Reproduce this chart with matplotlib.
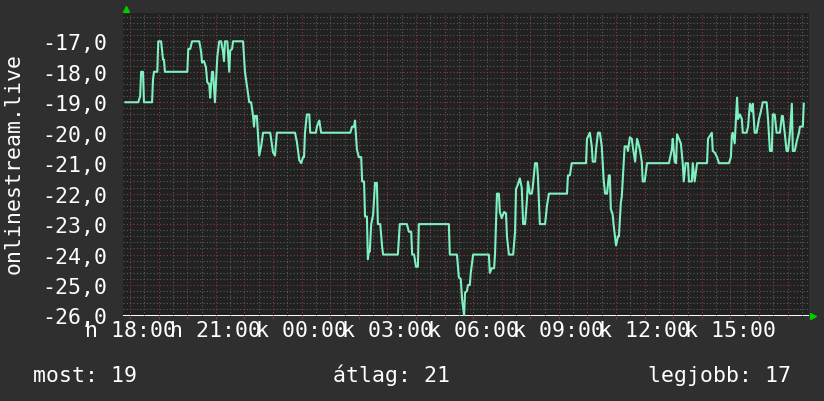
import matplotlib
matplotlib.use("Agg")
import matplotlib.pyplot as plt
from matplotlib.ticker import MultipleLocator, FuncFormatter
import numpy as np

# minutes after 18:00 (Monday) and measured value
minutes = [-10, 17, 21, 23, 27, 29, 46, 48, 50, 57, 59, 65, 69, 71, 73, 120, 122, 126, 130,
           145, 149, 151, 155, 159, 162, 166, 168, 172, 174, 178, 183, 187, 191, 195, 197,
           199, 204, 208, 210, 214, 216, 237, 239, 241, 245, 250, 254, 258, 260, 262, 266,
           271, 275, 279, 294, 298, 300, 304, 308, 346, 350, 355, 359, 363, 365, 367, 371,
           376, 378, 390, 392, 397, 401, 462, 466, 470, 472, 476, 480, 485, 487, 491, 493,
           497, 499, 501, 503, 506, 510, 514, 518, 520, 525, 529, 531, 562, 566, 581, 585,
           590, 592, 596, 600, 604, 606, 669, 671, 686, 690, 694, 697, 701, 703, 707, 709,
           713, 715, 720, 753, 755, 759, 764, 766, 770, 774, 776, 780, 785, 789, 791, 795,
           804, 808, 810, 814, 818, 822, 825, 829, 833, 835, 839, 843, 845, 850, 854, 856,
           860, 871, 875, 879, 917, 919, 923, 927, 957, 959, 965, 969, 971, 976, 978, 982,
           986, 990, 992, 994, 997, 1001, 1005, 1007, 1009, 1013, 1015, 1020, 1024, 1026,
           1030, 1032, 1034, 1038, 1043, 1045, 1049, 1053, 1055, 1060, 1064, 1066, 1070,
           1074, 1076, 1080, 1085, 1131, 1137, 1139, 1143, 1146, 1148, 1152, 1156, 1160,
           1162, 1166, 1171, 1173, 1179, 1181, 1185, 1190, 1211, 1213, 1217, 1221, 1223,
           1227, 1232, 1236, 1257, 1261, 1263, 1265, 1269, 1274, 1276, 1280, 1284, 1286,
           1294, 1297, 1301, 1305, 1307, 1311, 1315, 1320, 1324, 1328, 1336, 1339, 1343,
           1347, 1349, 1353, 1357, 1364, 1368, 1370, 1374, 1378, 1381, 1385, 1389, 1391,
           1395, 1399, 1404, 1406, 1412, 1414]
values = [-19.0, -19.0, -18.8, -18.0, -18.0, -19.0, -19.0, -18.25, -18.0, -18.0, -17.0, -17.0,
          -17.6, -17.6, -18.0, -18.0, -17.25, -17.25, -17.0, -17.0, -17.35, -17.7, -17.65,
          -17.85, -18.35, -18.4, -18.85, -18.0, -18.0, -19.0, -17.5, -17.0, -17.0, -17.35,
          -17.65, -17.0, -17.0, -18.0, -17.3, -17.25, -17.0, -17.0, -17.5, -18.0, -18.45,
          -19.0, -19.0, -19.45, -19.8, -19.45, -19.45, -20.75, -20.45, -20.0, -20.0, -20.45,
          -20.65, -20.75, -20.0, -20.0, -20.3, -20.9, -21.0, -20.8, -20.8, -20.0, -19.4,
          -19.4, -20.0, -20.0, -19.8, -19.6, -20.0, -20.0, -19.8, -19.8, -19.6, -20.55,
          -20.8, -20.8, -21.6, -21.6, -22.75, -22.75, -24.15, -23.9, -23.9, -23.0, -22.7,
          -21.65, -21.65, -23.0, -23.0, -23.75, -24.0, -24.0, -23.0, -23.0, -23.25, -23.25,
          -24.0, -24.0, -24.4, -24.4, -23.0, -23.0, -24.0, -24.0, -24.75, -24.8, -25.5,
          -26.0, -25.25, -25.2, -25.0, -25.0, -24.6, -24.0, -24.0, -24.6, -24.45, -24.45,
          -23.95, -22.0, -22.0, -22.6, -22.8, -22.6, -22.65, -23.4, -24.0, -24.0, -23.25,
          -21.85, -21.7, -21.5, -21.8, -23.0, -23.0, -22.2, -21.6, -22.0, -22.0, -21.8,
          -21.0, -21.0, -21.45, -23.0, -23.0, -22.4, -22.0, -22.0, -21.4, -21.4, -21.0,
          -21.0, -20.2, -20.0, -20.45, -20.95, -20.95, -20.55, -20.0, -20.0, -20.45, -21.0,
          -21.55, -22.0, -22.0, -21.4, -21.4, -22.5, -22.7, -23.05, -23.7, -23.4, -23.4,
          -22.3, -22.1, -21.55, -20.45, -20.45, -20.6, -20.15, -20.2, -20.45, -20.95, -20.2,
          -20.3, -20.55, -20.95, -21.6, -21.6, -21.0, -21.0, -20.55, -20.2, -20.95, -21.0,
          -20.05, -20.2, -20.35, -21.0, -21.6, -21.0, -21.0, -21.6, -21.6, -21.0, -21.6,
          -21.0, -21.0, -20.2, -20.1, -20.0, -20.6, -20.65, -20.8, -21.0, -21.0, -20.8,
          -20.1, -20.0, -20.35, -18.85, -19.55, -19.4, -19.55, -20.0, -20.0, -19.8, -19.05,
          -19.3, -19.05, -20.0, -20.0, -19.55, -19.3, -19.0, -19.0, -19.55, -20.6, -20.6,
          -19.4, -19.4, -20.0, -20.0, -19.45, -19.45, -20.0, -20.6, -20.6, -20.0, -19.05,
          -20.6, -20.6, -20.3, -20.0, -19.8, -19.8, -19.05]

tick_minutes = [0, 180, 360, 540, 720, 900, 1080, 1260]
tick_labels = ["h 18:00", "h 21:00", "k 00:00", "k 03:00", "k 06:00", "k 09:00",
               "k 12:00", "k 15:00"]
y_label = "onlinestream.live"
summary = ["most: 19", "átlag: 21", "legjobb: 17"]

BG = "#2f2f2f"
PLOT_BG = "#212121"
LINE = "#7ff0c0"
FG = "#ffffff"
FS = 15.5

plt.rcParams["font.family"] = "DejaVu Sans Mono"

fig = plt.figure(figsize=(8.24, 4.02), dpi=100, facecolor=BG)
ax = fig.add_axes([123 / 824, 85.5 / 402, 686 / 824, 302.5 / 402], facecolor=PLOT_BG)

ax.plot(minutes, values, color=LINE, linewidth=1.5, zorder=3)

ax.set_xlim(-15, 1425)
ax.set_ylim(-26, -16.07)

# grid like rrdtool: red dotted majors, grey dotted minors
ax.yaxis.set_major_locator(MultipleLocator(1))
ax.yaxis.set_minor_locator(MultipleLocator(0.2))
ax.xaxis.set_major_locator(MultipleLocator(60))
ax.xaxis.set_minor_locator(MultipleLocator(30))
ax.grid(which="minor", color="#5c5c5c", linestyle=(0, (1, 2)), linewidth=0.8, zorder=1)
ax.grid(which="major", color="#8a3a3a", linestyle=(0, (1, 2)), linewidth=0.8, zorder=2)

ax.yaxis.set_major_formatter(FuncFormatter(lambda v, p: f"{v:.1f}".replace(".", ",")))
ax.tick_params(axis="y", which="both", length=0, colors=FG, labelsize=FS, pad=11)
ax.tick_params(axis="x", which="major", length=2, color="#8a3a3a", pad=2)
ax.tick_params(axis="x", which="minor", length=0)

# text labels only on every third hour
ax2 = ax.secondary_xaxis("bottom")
ax2.set_xticks(tick_minutes)
ax2.set_xticklabels(tick_labels)
ax2.tick_params(length=0, colors=FG, labelsize=FS, pad=3.5)
ax2.spines["bottom"].set_visible(False)
ax.set_xticklabels([])

for s in ax.spines.values():
    s.set_visible(False)

# green axis arrows
ax.plot([0.004], [1.012], marker="^", color="#00cc00", markersize=5,
        transform=ax.transAxes, clip_on=False)
ax.plot([1.006], [0.0], marker=">", color="#00cc00", markersize=5,
        transform=ax.transAxes, clip_on=False)

fig.text(14 / 824, 1 - 163 / 402, y_label, rotation=90, color=FG, fontsize=FS,
         ha="center", va="center")

fig.text(33 / 824, 20 / 402, summary[0], color=FG, fontsize=FS, va="baseline")
fig.text(333 / 824, 20 / 402, summary[1], color=FG, fontsize=FS, va="baseline")
fig.text(648 / 824, 20 / 402, summary[2], color=FG, fontsize=FS, va="baseline")

fig.savefig("out.png", dpi=100, facecolor=BG)
